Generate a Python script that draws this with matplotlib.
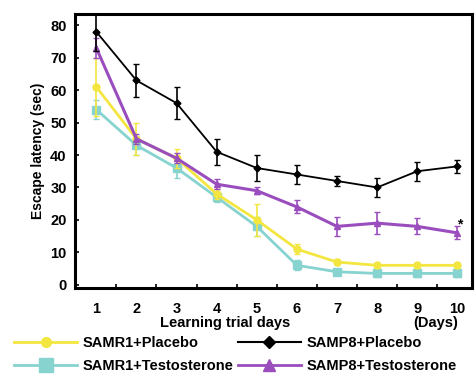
import numpy as np
import matplotlib
matplotlib.use("Agg")
import matplotlib.pyplot as plt
from matplotlib.ticker import FixedLocator
from matplotlib.lines import Line2D

plt.rcParams['font.family'] = ['Liberation Sans', 'DejaVu Sans']
plt.rcParams['font.weight'] = 'bold'

# data
days = np.arange(1, 11)
r1_placebo = [61, 45, 39, 28, 20, 11, 7, 6, 6, 6]
r1_placebo_err = [9, 5, 3, 1.5, 5, 1.5, 1, 0.8, 0.8, 0.8]
r1_testo = [54, 43, 36, 27, 18, 6, 4, 3.5, 3.5, 3.5]
r1_testo_err = [3, 3, 3, 1.5, 3, 1.5, 1, 1, 1, 1]
p8_placebo = [78, 63, 56, 41, 36, 34, 32, 30, 35, 36.5]
p8_placebo_err = [6, 5, 5, 4, 4, 3, 1.5, 3, 3, 2]
p8_testo = [73, 45, 39, 31, 29, 24, 18, 19, 18, 16]
p8_testo_err = [3, 1.5, 1.5, 1.5, 1, 2, 3, 3.5, 2.5, 2]
labels = ['SAMR1+Placebo', 'SAMR1+Testosterone', 'SAMP8+Placebo', 'SAMP8+Testosterone']

fig = plt.figure(figsize=(4.75, 3.76), dpi=100)
ax = fig.add_axes([0.158, 0.234, 0.836, 0.729])

yellow = '#f3e640'
cyan = '#86d3cf'
purple = '#9a4dbd'

ax.errorbar(days, r1_placebo, yerr=r1_placebo_err, color=yellow, lw=2, marker='o', ms=5,
            capsize=2, elinewidth=1.2, zorder=3)
ax.errorbar(days, r1_testo, yerr=r1_testo_err, color=cyan, lw=2, marker='s', ms=6,
            capsize=2, elinewidth=1.2, zorder=2)
ax.errorbar(days, p8_placebo, yerr=p8_placebo_err, color='black', lw=1.3, marker='D', ms=3.5,
            capsize=2.5, elinewidth=1.2, zorder=5)
ax.errorbar(days, p8_testo, yerr=p8_testo_err, color=purple, lw=2.2, marker='^', ms=5,
            capsize=2.5, elinewidth=1.2, zorder=4)

ax.text(10.05, p8_testo[-1] + 2.5, '*', fontsize=10, ha='center', va='center')

ax.set_xlim(0.47, 10.37)
ax.set_ylim(-1, 83.5)
ax.set_xticks(days)
ax.xaxis.set_minor_locator(FixedLocator(days[:-1] + 0.5))
ax.set_yticks(range(0, 81, 10))
ax.tick_params(axis='x', which='major', length=0, labelsize=10.5, pad=10)
ax.tick_params(axis='x', which='minor', direction='in', length=3, width=1.2)
ax.tick_params(axis='y', direction='in', length=3, width=1.2, labelsize=10.5, pad=6)
for s in ax.spines.values():
    s.set_linewidth(2.2)

ax.set_ylabel('Escape latency (sec)', fontsize=10, fontweight='bold', labelpad=4)
fig.text(0.475, 0.141, 'Learning trial days', fontsize=10.5, fontweight='bold', ha='center', va='center')
fig.text(0.917, 0.141, '(Days)', fontsize=10.5, fontweight='bold', ha='center', va='center')

handles = [
    Line2D([], [], color=yellow, lw=2, marker='o', ms=7),
    Line2D([], [], color=cyan, lw=2, marker='s', ms=10),
    Line2D([], [], color='black', lw=1.5, marker='D', ms=6),
    Line2D([], [], color=purple, lw=2, marker='^', ms=8),
]
fig.legend(handles, labels, ncol=2, loc='upper left', bbox_to_anchor=(0.03, 0.106),
           frameon=False, handlelength=4.3, fontsize=10.5, columnspacing=0.3,
           handletextpad=0.4, labelspacing=0.6, borderaxespad=0, borderpad=0)

fig.savefig('out.png', dpi=100)
